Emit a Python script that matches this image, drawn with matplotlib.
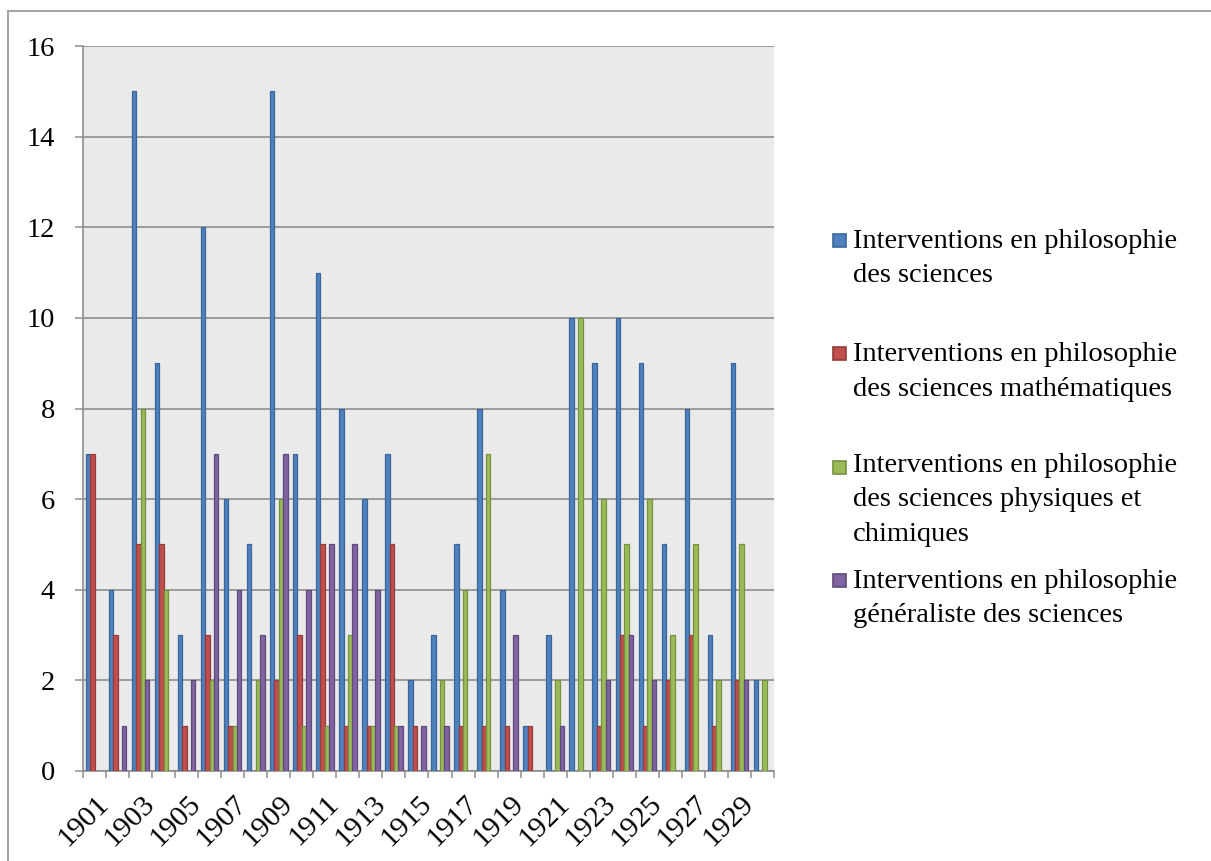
import matplotlib
matplotlib.use("Agg")
import matplotlib.pyplot as plt
import matplotlib.transforms as mtransforms
from matplotlib.patches import Rectangle
import numpy as np

years = list(range(1901, 1931))

# valeurs
sciences = [7, 4, 15, 9, 3, 12, 6, 5, 15, 7, 11, 8, 6, 7, 2,
            3, 5, 8, 4, 1, 3, 10, 9, 10, 9, 5, 8, 3, 9, 2]
maths = [7, 3, 5, 5, 1, 3, 1, 0, 2, 3, 5, 1, 1, 5, 1,
         0, 1, 1, 1, 1, 0, 0, 1, 3, 1, 2, 3, 1, 2, 0]
physique = [0, 0, 8, 4, 0, 2, 1, 2, 6, 1, 1, 3, 1, 1, 0,
            2, 4, 7, 0, 0, 2, 10, 6, 5, 6, 3, 5, 2, 5, 2]
generaliste = [0, 1, 2, 0, 2, 7, 4, 3, 7, 4, 5, 5, 4, 1, 1,
               1, 0, 0, 3, 0, 1, 0, 2, 3, 2, 0, 0, 0, 2, 0]

labels = [
    "Interventions en philosophie\ndes sciences",
    "Interventions en philosophie\ndes sciences mathématiques",
    "Interventions en philosophie\ndes sciences physiques et\nchimiques",
    "Interventions en philosophie\ngénéraliste des sciences",
]
faces = ["#4F81BD", "#C0504D", "#9BBB59", "#8064A2"]
edges = ["#3A679A", "#943C3A", "#76913F", "#5F4A7C"]

plt.rcParams['font.family'] = ['Liberation Serif', 'DejaVu Serif']

W, H = 1211, 861
fig = plt.figure(figsize=(W / 100, H / 100), dpi=100)
ax = fig.add_axes([83 / W, (H - 771) / H, (774 - 83) / W, (771 - 46) / H])
ax.set_facecolor("#EAEAEA")

x = np.arange(len(years))
width = 0.19
series = [sciences, maths, physique, generaliste]
for j, vals in enumerate(series):
    ax.bar(x + (j - 1.5) * width, vals, width=width, color=faces[j],
           edgecolor=edges[j], linewidth=0.9, zorder=3)

ax.set_xlim(-0.5, len(years) - 0.5)
ax.set_ylim(0, 16)
ax.set_yticks(range(0, 17, 2))
ax.yaxis.grid(True, color="#8E8E8E", linewidth=1.2, zorder=1)
ax.set_axisbelow(True)

# graduations aux limites des catégories, étiquettes une année sur deux
ax.set_xticks(np.arange(-0.5, len(years), 1))
ax.set_xticklabels([])
ax.tick_params(axis='x', which='major', length=5, width=1.1, color="#8E8E8E")
ax.set_xticks(x[::2], minor=True)
ax.set_xticklabels([str(y) for y in years[::2]], minor=True, fontsize=21.5,
                   rotation=45, ha='right', va='top', rotation_mode='anchor')
ax.tick_params(axis='x', which='minor', length=0, pad=14)
offset = mtransforms.ScaledTranslation(1 / 100, 0, fig.dpi_scale_trans)
for lab in ax.xaxis.get_minorticklabels():
    lab.set_transform(lab.get_transform() + offset)

ax.tick_params(axis='y', length=6, width=1.1, color="#8E8E8E",
               labelsize=20.5, pad=14)

for side in ("top", "right"):
    ax.spines[side].set_visible(False)
for side in ("left", "bottom"):
    ax.spines[side].set_color("#8E8E8E")
    ax.spines[side].set_linewidth(1.2)

# légende placée à la main, comme dans le tableur
line_px = 31.5
for j, lab in enumerate(labels):
    base = 251 + j * 113.3
    nlines = lab.count("\n")
    fig.patches.append(Rectangle((833 / W, (H - base + 4) / H), 13 / W, 13 / H,
                                 transform=fig.transFigure, facecolor=faces[j],
                                 edgecolor=edges[j], linewidth=1.2))
    fig.text(853 / W, (H - base - nlines * line_px) / H, lab, fontsize=20.5,
             va='baseline', ha='left', linespacing=1.5)

# cadre extérieur
fig.patches.append(Rectangle((8 / W, -0.1), 1.2, (H - 11) / H + 0.1,
                             transform=fig.transFigure, fill=False,
                             edgecolor="#A5A5A5", linewidth=1.5))

fig.savefig("out.png", dpi=100)
